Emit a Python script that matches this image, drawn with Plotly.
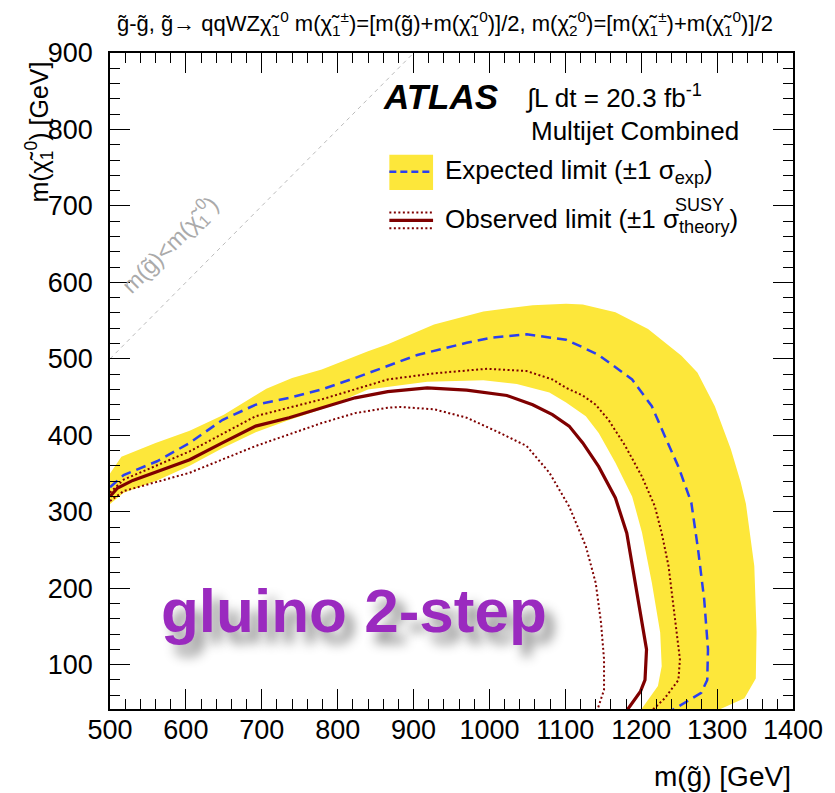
import plotly.graph_objects as go

# ---- exclusion contours in the (m_gluino, m_chi10) plane [GeV] ----
exp_up_x = [500, 515, 560, 605, 650, 680, 706, 740, 779, 840, 866, 927, 992, 1057, 1101, 1123, 1166,
            1209, 1253, 1274, 1297, 1318, 1331, 1338, 1349, 1352, 1351, 1336, 1300]
exp_up_y = [350, 372, 390, 406, 427, 445, 461, 475, 486, 510, 519, 545, 562, 570, 572, 571, 561,
            539, 504, 482, 438, 382, 339, 310, 229, 143, 82, 56, 40]

exp_dn_x = [500, 518, 562, 605, 648, 692, 736, 779, 840, 918, 992, 1036, 1079, 1101, 1127,
            1144, 1166, 1188, 1201, 1214, 1225, 1227, 1222, 1199]
exp_dn_y = [310, 325, 341, 360, 383, 404, 420, 434, 460, 470, 472, 467, 456, 443, 425,
            403, 364, 320, 273, 207, 142, 98, 72, 40]

exp_x = [500, 518, 562, 605, 648, 692, 736, 779, 823, 866, 905, 970, 1005, 1049, 1083,
         1101, 1123, 1144, 1188, 1214, 1231, 1249, 1266, 1275, 1283, 1288, 1287, 1279, 1240]
exp_y = [332, 348, 366, 390, 420, 440, 449, 460, 475, 491, 505, 521, 528, 532, 528,
         525, 515, 505, 473, 438, 399, 359, 312, 250, 185, 120, 80, 63, 40]

obs_x = [500, 510, 530, 562, 605, 648, 692, 736, 779, 823, 866, 918, 970, 1023, 1057, 1083,
         1105, 1123, 1144, 1166, 1181, 1192, 1201, 1207, 1205, 1199, 1181]
obs_y = [320, 331, 341, 353, 368, 390, 412, 423, 436, 449, 457, 462, 459, 452, 440, 427,
         412, 390, 359, 318, 272, 207, 150, 120, 80, 65, 40]

obs_up_x = [500, 518, 605, 692, 779, 866, 927, 997, 1049, 1083, 1101, 1123, 1140, 1157,
            1179, 1201, 1218, 1227, 1236, 1244, 1251, 1249, 1231, 1214]
obs_up_y = [325, 342, 379, 425, 447, 473, 481, 487, 484, 473, 462, 452, 440, 420,
            386, 346, 307, 272, 229, 163, 107, 80, 56, 40]

obs_dn_x = [500, 518, 605, 692, 779, 823, 866, 883, 927, 970, 1014, 1049, 1079, 1105,
            1127, 1140, 1147, 1151, 1151, 1142]
obs_dn_y = [314, 327, 351, 386, 416, 429, 436, 437, 434, 423, 403, 386, 351, 307,
            255, 207, 155, 107, 67, 40]

kin_x = [500, 900]
kin_y = [500, 900]

X_RANGE = [500, 1400]
Y_RANGE = [42, 900]

FONT = "Liberation Sans, Arial, Helvetica, sans-serif"
YELLOW = "#FDE73A"
BLUE = "#2B3FEF"
DARKRED = "#7F0000"

fig = go.Figure()

# +-1 sigma expected band as a closed polygon
fig.add_trace(go.Scatter(
    x=exp_up_x + exp_dn_x[::-1], y=exp_up_y + exp_dn_y[::-1],
    fill="toself", fillcolor=YELLOW, line=dict(width=0), mode="lines",
    hoverinfo="skip", showlegend=False))

# kinematic boundary
fig.add_trace(go.Scatter(x=kin_x, y=kin_y, mode="lines",
                         line=dict(color="#BBBBBB", width=1, dash="4px,4px"),
                         showlegend=False))

fig.add_trace(go.Scatter(x=exp_x, y=exp_y, mode="lines",
                         line=dict(color=BLUE, width=2.5, dash="10px,6px"),
                         showlegend=False))
fig.add_trace(go.Scatter(x=obs_up_x, y=obs_up_y, mode="lines",
                         line=dict(color=DARKRED, width=2, dash="2px,2.5px"),
                         showlegend=False))
fig.add_trace(go.Scatter(x=obs_dn_x, y=obs_dn_y, mode="lines",
                         line=dict(color=DARKRED, width=2, dash="2px,2.5px"),
                         showlegend=False))
fig.add_trace(go.Scatter(x=obs_x, y=obs_y, mode="lines",
                         line=dict(color=DARKRED, width=3.2),
                         showlegend=False))

axis_common = dict(
    showgrid=False, zeroline=False, showline=True, linecolor="black", linewidth=1.5,
    mirror="allticks", ticks="inside", ticklen=20, tickwidth=1.2, tickcolor="black",
    tickfont=dict(family=FONT, size=27, color="black"),
    minor=dict(ticks="inside", ticklen=10, tickwidth=1.2, tickcolor="black", dtick=20),
)
fig.update_xaxes(range=X_RANGE, dtick=100, tick0=0, ticklabelstandoff=-4, **axis_common)
fig.update_yaxes(range=Y_RANGE, dtick=100, tick0=0, ticklabelstandoff=10, **axis_common)

ann = []
# header line
ann.append(dict(
    text="g̃-g̃, g̃→ qqWZχ̃<sub>1</sub><sup>0</sup> m(χ̃<sub>1</sub><sup>±</sup>)=[m(g̃)+m(χ̃<sub>1</sub><sup>0</sup>)]/2, "
         "m(χ̃<sub>2</sub><sup>0</sup>)=[m(χ̃<sub>1</sub><sup>±</sup>)+m(χ̃<sub>1</sub><sup>0</sup>)]/2",
    xref="paper", yref="paper", x=0.007, y=1.0, xanchor="left", yanchor="bottom",
    yshift=12, showarrow=False, font=dict(family=FONT, size=22, color="black")))
# axis titles
ann.append(dict(text="m(g̃) [GeV]", xref="paper", yref="paper", x=1.0, y=0,
                xanchor="right", yanchor="middle", yshift=-67, showarrow=False,
                font=dict(family=FONT, size=28, color="black")))
ann.append(dict(text="m(χ̃<sub>1</sub><sup>0</sup>) [GeV]", xref="paper", yref="paper",
                x=-0.104, y=1.0, xanchor="center", yanchor="top", textangle=-90,
                yshift=-6, showarrow=False, font=dict(family=FONT, size=25, color="black")))
# kinematic boundary label
ann.append(dict(text="m(g̃)<m(χ̃<sub>1</sub><sup>0</sup>)", x=579, y=650, textangle=-45,
                showarrow=False, font=dict(family=FONT, size=23, color="#AAAAAA")))
# experiment labels
ann.append(dict(text="<b><i>ATLAS</i></b>", xref="paper", yref="paper", x=0.397, y=0.934,
                xanchor="left", yanchor="middle", showarrow=False,
                font=dict(family=FONT, size=35, color="black")))
ann.append(dict(text="∫L dt = 20.3 fb<sup>-1</sup>", xref="paper", yref="paper",
                x=0.605, y=0.934, xanchor="left", yanchor="middle", showarrow=False,
                font=dict(family=FONT, size=26, color="black")))
ann.append(dict(text="Multijet Combined", xref="paper", yref="paper",
                x=0.613, y=0.881, xanchor="left", yanchor="middle", showarrow=False,
                font=dict(family=FONT, size=26, color="black")))
# legend text
ann.append(dict(text="Expected limit (±1 σ<sub>exp</sub>)", xref="paper", yref="paper",
                x=0.488, y=0.819, xanchor="left", yanchor="middle", showarrow=False,
                font=dict(family=FONT, size=26, color="black")))
ann.append(dict(text="Observed limit (±1 σ<sub>theory</sub>)", xref="paper",
                yref="paper", x=0.488, y=0.745, xanchor="left", yanchor="middle",
                showarrow=False, font=dict(family=FONT, size=26, color="black")))
ann.append(dict(text="SUSY", xref="paper", yref="paper", x=0.824, y=0.768,
                xanchor="left", yanchor="middle", showarrow=False,
                font=dict(family=FONT, size=18, color="black")))
# big label
ann.append(dict(text="<b>gluino 2-step</b>", xref="paper", yref="paper", x=0.072, y=0.15,
                xanchor="left", yanchor="middle", showarrow=False,
                font=dict(family=FONT, size=62, color="#9A2ABF",
                          shadow="9px 11px 12px rgba(0,0,0,0.45)")))
fig.update_layout(annotations=ann)

# legend swatches
shapes = [
    dict(type="rect", xref="paper", yref="paper", x0=0.409, x1=0.473, y0=0.791, y1=0.845,
         fillcolor=YELLOW, line=dict(width=0), layer="above"),
    dict(type="line", xref="paper", yref="paper", x0=0.409, x1=0.473, y0=0.819, y1=0.819,
         line=dict(color=BLUE, width=2.5, dash="7px,4px"), layer="above"),
    dict(type="line", xref="paper", yref="paper", x0=0.409, x1=0.473, y0=0.745, y1=0.745,
         line=dict(color=DARKRED, width=3.2), layer="above"),
    dict(type="line", xref="paper", yref="paper", x0=0.409, x1=0.473, y0=0.757, y1=0.757,
         line=dict(color=DARKRED, width=2, dash="2px,2.5px"), layer="above"),
    dict(type="line", xref="paper", yref="paper", x0=0.409, x1=0.473, y0=0.733, y1=0.733,
         line=dict(color=DARKRED, width=2, dash="2px,2.5px"), layer="above"),
]
fig.update_layout(shapes=shapes)

fig.update_layout(
    width=835, height=793,
    margin=dict(l=110, r=36, t=53, b=84),
    paper_bgcolor="white", plot_bgcolor="white",
    showlegend=False,
)

fig.write_html("out.html")
